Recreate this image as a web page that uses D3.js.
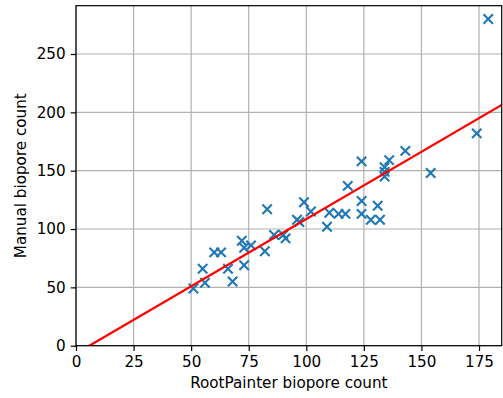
<!DOCTYPE html>
<html>
<head>
<meta charset="utf-8">
<script src="https://cdn.jsdelivr.net/npm/d3@7"></script>
<style>
  body { margin: 0; background: #fff; }
  svg { display: block; font-family: "DejaVu Sans", sans-serif; }
</style>
</head>
<body>
<svg id="chart" width="503" height="398"></svg>
<script>
// RootPainter vs manual biopore counts
const rootPainter = [51, 55, 56, 60, 63, 66, 68, 72, 73, 73, 76, 82, 83, 86, 90, 91,
  96, 97, 99, 102, 109, 110, 114, 117, 118, 124, 124, 124, 128, 131, 132,
  134, 136, 134, 134, 143, 154, 174, 179];
const manual = [49, 66, 54, 80, 80, 66, 55, 90, 84, 69, 86, 81, 117, 95, 95, 92,
  108, 106, 123, 115, 102, 114, 113, 113, 137, 158, 124, 113, 108, 120, 108,
  153, 159, 145, 149, 167, 148, 182, 280];

const xTicks = [0, 25, 50, 75, 100, 125, 150, 175];
const yTicks = [0, 50, 100, 150, 200, 250];

// fitted line
const fitSlope = 1.1525;
const fitIntercept = -6.7;

const svg = d3.select("#chart");
const margin = { top: 5.7, right: 1.3, bottom: 52.3, left: 76 };
const width = +svg.attr("width") - margin.left - margin.right,
  height = +svg.attr("height") - margin.top - margin.bottom;

const fs = "15.2px";

const x = d3.scaleLinear().domain([0, 184.85]).range([0, width]);
const y = d3.scaleLinear().domain([0, 291.4]).range([height, 0]);

const g = svg.append("g")
  .attr("transform", `translate(${margin.left},${margin.top})`);

g.append("defs").append("clipPath").attr("id", "clip")
  .append("rect").attr("width", width).attr("height", height);

// grid
g.append("g").selectAll("line").data(xTicks).join("line")
  .attr("x1", d => x(d)).attr("x2", d => x(d))
  .attr("y1", 0).attr("y2", height)
  .attr("stroke", "#b0b0b0").attr("stroke-width", 1.2);
g.append("g").selectAll("line").data(yTicks).join("line")
  .attr("y1", d => y(d)).attr("y2", d => y(d))
  .attr("x1", 0).attr("x2", width)
  .attr("stroke", "#b0b0b0").attr("stroke-width", 1.2);

// points (x markers)
const s = 4.7;
const pts = g.append("g");
rootPainter.forEach((v, i) => {
  const cx = x(v), cy = y(manual[i]);
  pts.append("path")
    .attr("d", `M${cx - s},${cy - s}L${cx + s},${cy + s}M${cx - s},${cy + s}L${cx + s},${cy - s}`)
    .attr("stroke", "#1f77b4").attr("stroke-width", 2.1).attr("fill", "none");
});

// fit line
const fitX = x.domain();
g.append("path")
  .attr("clip-path", "url(#clip)")
  .attr("d", d3.line().x(d => x(d)).y(d => y(fitSlope * d + fitIntercept))(fitX))
  .attr("stroke", "#ff0000").attr("stroke-width", 2.3).attr("fill", "none");

// axes
const xAxis = g.append("g")
  .attr("transform", `translate(0,${height})`)
  .call(d3.axisBottom(x).tickValues(xTicks).tickSize(5.3).tickPadding(5).tickSizeOuter(0));
const yAxis = g.append("g")
  .call(d3.axisLeft(y).tickValues(yTicks).tickSize(5.3).tickPadding(5).tickSizeOuter(0));

[xAxis, yAxis].forEach(a => {
  a.select(".domain").remove();
  a.selectAll("line").attr("stroke", "#000").attr("stroke-width", 1.2);
  a.selectAll("text").attr("fill", "#000")
    .style("font-family", "DejaVu Sans").style("font-size", fs);
});

// spines
g.append("rect").attr("width", width).attr("height", height)
  .attr("fill", "none").attr("stroke", "#000").attr("stroke-width", 1.2);

// labels
svg.append("text")
  .attr("x", margin.left + width / 2).attr("y", 387.5)
  .attr("text-anchor", "middle").style("font-size", fs)
  .text("RootPainter biopore count");
svg.append("text")
  .attr("transform", `translate(26,${margin.top + height / 2}) rotate(-90)`)
  .attr("text-anchor", "middle").style("font-size", fs)
  .text("Manual biopore count");
</script>
</body>
</html>
